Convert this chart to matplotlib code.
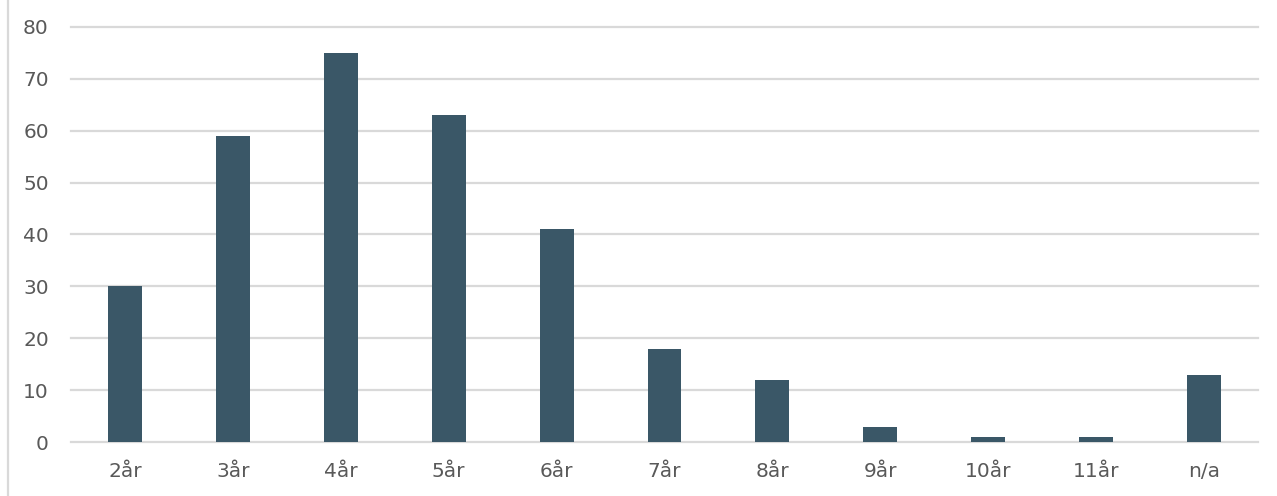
import matplotlib.pyplot as plt
from matplotlib.lines import Line2D

categories = ['2år', '3år', '4år', '5år', '6år', '7år', '8år', '9år', '10år', '11år', 'n/a']
values = [30, 59, 75, 63, 41, 18, 12, 3, 1, 1, 13]
yticks = [0, 10, 20, 30, 40, 50, 60, 70, 80]

W, H = 1277, 496
fig = plt.figure(figsize=(W / 100, H / 100), dpi=100)

# plot area in pixels
x0, x1 = 71, 1258
y_zero, y_top = 442.3, 21.5
ax = fig.add_axes([x0 / W, 1 - y_zero / H, (x1 - x0) / W, (y_zero - y_top) / H])

ax.bar(range(len(categories)), values, width=0.315, color='#3A5767', zorder=3)

ax.set_xlim(-0.5, len(categories) - 0.5)
ax.set_ylim(0, 81)
ax.set_yticks(yticks)
ax.set_xticks(range(len(categories)))
ax.set_xticklabels(categories)

ax.grid(axis='y', color='#D9D9D9', linewidth=1.6, zorder=0)
ax.grid(axis='x', visible=False)
for gl in ax.get_ygridlines():
    gl.set_clip_on(False)
for s in ax.spines.values():
    s.set_visible(False)
ax.tick_params(length=0, labelsize=14.5, labelcolor='#595959')
ax.tick_params(axis='y', pad=16)
ax.tick_params(axis='x', pad=14)

# chart frame on the left edge
fig.add_artist(Line2D([7.5 / W, 7.5 / W], [0, 1], color='#D9D9D9', linewidth=1.6))

fig.savefig('out.png', dpi=100)
